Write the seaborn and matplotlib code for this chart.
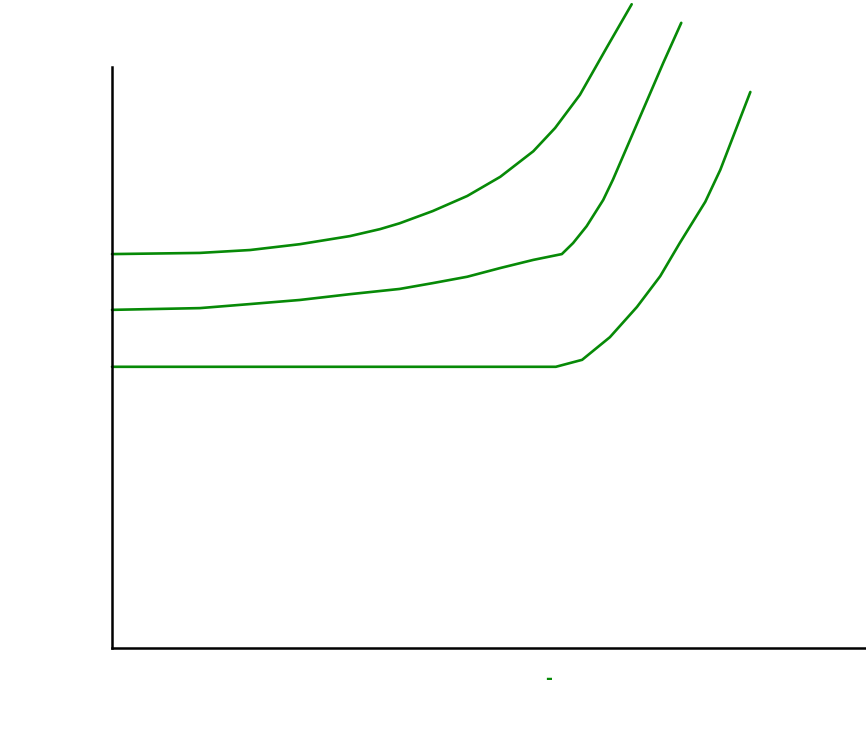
import pandas as pd
import seaborn as sns
import matplotlib.pyplot as plt

# --- Data (x, y in 0-100 axis units) ---
curve_top_x = [0, 11.7, 18.4, 25.0, 31.7, 35.7, 38.3, 42.7, 47.3, 51.7, 56.1, 59.0, 62.3, 65.9, 69.2]
curve_top_y = [67.8, 68.0, 68.5, 69.5, 70.9, 72.1, 73.1, 75.2, 77.8, 81.1, 85.5, 89.5, 95.2, 103.4, 110.8]

curve_mid_x = [0, 11.7, 18.4, 25.0, 31.7, 38.3, 42.7, 47.3, 51.7, 56.1, 59.9,
               61.4, 63.2, 65.4, 66.7, 70.3, 73.4, 75.8]
curve_mid_y = [58.2, 58.5, 59.2, 59.9, 60.9, 61.8, 62.8, 63.9, 65.4, 66.8, 67.8,
               69.7, 72.6, 77.1, 80.6, 91.4, 100.7, 107.6]

curve_low_x = [0, 59.1, 62.6, 66.3, 69.9, 73.0, 75.6, 79.0, 81.0, 85.0]
curve_low_y = [48.4, 48.4, 49.6, 53.5, 58.7, 64.0, 69.7, 76.8, 82.3, 95.7]

x_label = "-"
LINE_COLOR = "#078a07"

sns.set_style("white")

fig = plt.figure(figsize=(8.66, 7.34), dpi=100)
ax = fig.add_axes([112 / 866, 86 / 734, 754 / 866, 581 / 734])

for xs, ys in [(curve_top_x, curve_top_y), (curve_mid_x, curve_mid_y), (curve_low_x, curve_low_y)]:
    df = pd.DataFrame({"x": xs, "y": ys})
    sns.lineplot(data=df, x="x", y="y", sort=False, color=LINE_COLOR,
                 linewidth=1.9, ax=ax, clip_on=False)

ax.set_xlim(0, 100.4)
ax.set_ylim(0, 100)
ax.set_xticks([])
ax.set_yticks([])
ax.set_xlabel("")
ax.set_ylabel("")
sns.despine(ax=ax)
for side in ["left", "bottom"]:
    ax.spines[side].set_linewidth(1.8)
    ax.spines[side].set_color("black")

ax.text(0.579, -0.053, x_label, transform=ax.transAxes, color=LINE_COLOR,
        ha="center", va="center", fontsize=12, fontweight="bold")

fig.savefig("out.png", dpi=100)
